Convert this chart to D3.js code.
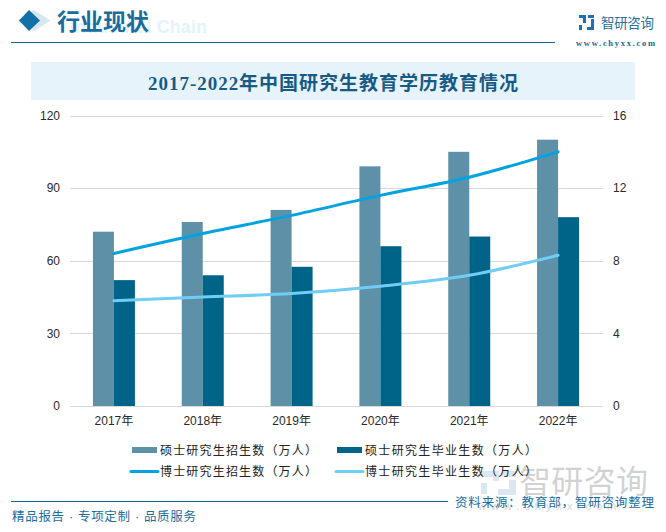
<!DOCTYPE html>
<html><head><meta charset="utf-8">
<script src="https://cdn.jsdelivr.net/npm/d3@7/dist/d3.min.js"></script>
<style>html,body{margin:0;padding:0;background:#fff}svg{display:block}text{font-family:"Liberation Sans","Noto Sans CJK SC",sans-serif}</style>
</head><body><svg id="c" width="666" height="532"></svg>
<script>
const categories=["2017年","2018年","2019年","2020年","2021年","2022年"];
const masterEnroll=[72,76,81,99,105,110];
const masterGrad=[52,54,57.5,66,70,78];
const phdEnroll=[8.4,9.5,10.5,11.6,12.6,14];
const phdGrad=[5.8,6.0,6.2,6.6,7.2,8.3];
const leftTicks=[0,30,60,90,120];
const rightTicks=[0,4,8,12,16];
const legendNames=["硕士研究生招生数（万人）","硕士研究生毕业生数（万人）","博士研究生招生数（万人）","博士研究生毕业生数（万人）"];
const colors=["#5e90a8","#006388","#00a3e0","#70cdf5"];
const svg=d3.select("#c");
const sans='"Liberation Sans","Noto Sans CJK SC",sans-serif';
const serif='"Liberation Serif","Noto Sans CJK SC",serif';
const x=d3.scaleBand().domain(categories).range([69.500,602.500]);
const yL=d3.scaleLinear().domain([0,120]).range([406,115.5]);
const yR=d3.scaleLinear().domain([0,16]).range([406,115.5]);
// header
svg.append("text").attr("x",70).attr("y",33).attr("font-size",18).attr("font-weight","bold").attr("fill","#e4f2fc").attr("textLength",137).text("Industrial Chain");
svg.append("path").attr("d","M34 10L50.500 20.500L34 31L17.500 20.500Z").attr("fill","#d7e6f0");
svg.append("path").attr("d","M29 10L40 20.500L29 31L19 20.500Z").attr("fill","#1270a8");
svg.append("text").attr("x",57).attr("y",30).attr("font-size",23).attr("font-weight","bold").attr("fill","#1a6c9e").style("font-family",serif).text("行业现状");
svg.append("rect").attr("x",11).attr("y",42).attr("width",544).attr("height",1).attr("fill","#056a9c");
// logo
svg.append("path").attr("d","M579 15h7v8h-3v-5h-4zM579 25h3v5h-3zM588 15h6v3h-6zM591 19h3v11h-7v-3h4z").attr("fill","#1f6fb5");
svg.append("text").attr("x",601).attr("y",28).attr("font-size",13.500).attr("fill","#2a6f9c").attr("textLength",53).text("智研咨询");
svg.append("text").attr("x",576).attr("y",46).attr("font-size",8.500).attr("fill","#1f5f8c").attr("font-weight","bold").style("font-family",serif).attr("textLength",79).text("www.chyxx.com");
// title
svg.append("rect").attr("x",31).attr("y",62).attr("width",604).attr("height",38).attr("fill","#e6f3fb");
svg.append("text").attr("x",148).attr("y",90).attr("font-size",19).attr("font-weight","bold").attr("fill","#185a84").style("font-family",serif).attr("textLength",370).text("2017-2022年中国研究生教育学历教育情况");
// grid
svg.append("g").selectAll("line").data(leftTicks).join("line").attr("x1",70).attr("x2",603)
 .attr("y1",d=>Math.round(yL(d))+.5).attr("y2",d=>Math.round(yL(d))+.5).attr("stroke","#d9d9d9").attr("stroke-width",1);
// axes
const gl=svg.append("g").attr("transform","translate(70,0)").call(d3.axisLeft(yL).tickValues(leftTicks).tickSize(0).tickPadding(10));
const gr=svg.append("g").attr("transform","translate(603,0)").call(d3.axisRight(yR).tickValues(rightTicks).tickSize(0).tickPadding(10));
const gb=svg.append("g").attr("transform","translate(0,406)").call(d3.axisBottom(x).tickSize(0).tickPadding(10));
[gl,gr,gb].forEach(g=>{g.select(".domain").remove();g.selectAll("text").attr("font-size",12).attr("fill","#2a2a2a").style("font-family",sans);});
// bars
const bw=21;
svg.append("g").selectAll("rect").data(masterEnroll).join("rect").attr("x",(d,i)=>x(categories[i])+x.bandwidth()/2-bw).attr("width",bw)
 .attr("y",d=>yL(d)).attr("height",d=>yL(0)-yL(d)).attr("fill",colors[0]);
svg.append("g").selectAll("rect").data(masterGrad).join("rect").attr("x",(d,i)=>x(categories[i])+x.bandwidth()/2).attr("width",bw)
 .attr("y",d=>yL(d)).attr("height",d=>yL(0)-yL(d)).attr("fill",colors[1]);
// lines
const line=d3.line().x((d,i)=>x(categories[i])+x.bandwidth()/2).y(d=>yR(d)).curve(d3.curveMonotoneX);
svg.append("path").datum(phdEnroll).attr("d",line).attr("fill","none").attr("stroke",colors[2]).attr("stroke-width",3).attr("stroke-linecap","round");
svg.append("path").datum(phdGrad).attr("d",line).attr("fill","none").attr("stroke",colors[3]).attr("stroke-width",3).attr("stroke-linecap","round");
// watermark
const wm=svg.append("g").attr("opacity",.32);
wm.append("path").attr("d","M481 471h18v10h-6v-4h-12zM481 483h6v11h-6zM502 471h14v6h-14zM509 480h7v15h-18v-6h11z").attr("fill","#8fb4d6");
wm.append("text").attr("x",519).attr("y",493).attr("font-size",32).attr("fill","#777").attr("textLength",129).text("智研咨询");
svg.append("text").attr("x",478).attr("y",510).attr("font-size",11).attr("fill","#d4d7da").attr("letter-spacing",5).text("www.chyxx.com");
// legend
const lx=[132,337],ly=[450,471];
[[0,0],[1,0],[0,1],[1,1]].forEach(([c,r],i)=>{
 if(i<2) svg.append("rect").attr("x",lx[c]).attr("y",ly[r]-3).attr("width",25).attr("height",6).attr("fill",colors[i]);
 else svg.append("line").attr("x1",lx[c]-1).attr("x2",lx[c]+26).attr("y1",ly[r]+.5).attr("y2",ly[r]+.5).attr("stroke",colors[i]).attr("stroke-width",3).attr("stroke-linecap","round");
 svg.append("text").attr("x",lx[c]+28).attr("y",ly[r]+4.500).attr("font-size",12).attr("fill","#222").attr("textLength",i%2?172:157).text(legendNames[i]);
});
// footer
svg.append("rect").attr("x",11).attr("y",501).attr("width",437).attr("height",1).attr("fill","#056a9c");
svg.append("text").attr("x",12).attr("y",521).attr("font-size",12.500).attr("fill","#1a6c9e").attr("textLength",184).text("精品报告 · 专项定制 · 品质服务");
svg.append("text").attr("x",455).attr("y",507).attr("font-size",12.500).attr("fill","#1a6c9e").attr("textLength",199).text("资料来源：教育部，智研咨询整理");
</script></body></html>
